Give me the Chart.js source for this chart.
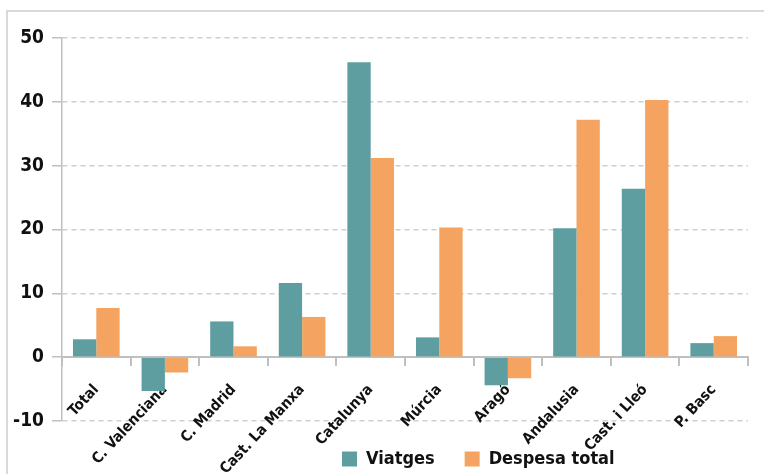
<!DOCTYPE html>
<html>
<head>
<meta charset="utf-8">
<script src="https://cdn.jsdelivr.net/npm/chart.js@4"></script>
<style>
  html, body { margin: 0; padding: 0; background: #fff; }
  #wrap { position: relative; width: 764px; height: 474px; overflow: hidden; }
  #frame { position: absolute; left: 6px; top: 10px; width: 800px; height: 500px;
           border-top: 2px solid #d9d9d9; border-left: 2px solid #d9d9d9; }
  canvas { position: absolute; left: 0; top: 0; }
</style>
</head>
<body>
<div id="wrap">
  <div id="frame"></div>
  <canvas id="chart" width="764" height="474"></canvas>
</div>
<script>
// chart data
const regions = ['Total', 'C. Valenciana', 'C. Madrid', 'Cast. La Manxa', 'Catalunya',
                 'Múrcia', 'Aragó', 'Andalusia', 'Cast. i Lleó', 'P. Basc'];
const viatges = [2.8, -5.3, 5.6, 11.6, 46.2, 3.1, -4.4, 20.2, 26.4, 2.2];
const despesa = [7.7, -2.4, 1.7, 6.3, 31.2, 20.3, -3.3, 37.2, 40.3, 3.3];
const yMin = -10;
const yMax = 50;
const yStep = 10;

const fontFamily = "'Liberation Sans Narrow', 'DejaVu Sans Condensed', 'Arial Narrow', sans-serif";

// legend sits off-centre, below the plot, in the original
const legendShift = {
  id: 'legendShift',
  afterLayout(chart) {
    const lg = chart.legend;
    if (!lg) return;
    lg.left += 312;
    lg.right += 312;
    lg.top -= 1;
    lg.bottom -= 1;
  }
};

new Chart(document.getElementById('chart'), {
  type: 'bar',
  data: {
    labels: regions,
    datasets: [
      { label: 'Viatges', data: viatges, backgroundColor: '#5f9ea0' },
      { label: 'Despesa total', data: despesa, backgroundColor: '#f4a460' }
    ]
  },
  options: {
    responsive: false,
    animation: false,
    layout: { padding: { top: 38, right: 16, left: 0, bottom: 0 } },
    datasets: { bar: { categoryPercentage: 0.68, barPercentage: 1.0 } },
    plugins: {
      tooltip: { enabled: false },
      legend: {
        position: 'bottom',
        align: 'start',
        maxHeight: 53,
        labels: {
          boxWidth: 15, boxHeight: 15, padding: 30,
          color: '#111',
          font: { family: fontFamily, size: 18, weight: 'bold' }
        }
      }
    },
    scales: {
      x: {
        position: { y: 0 },
        grid: { offset: true, drawOnChartArea: false, tickLength: 8, color: '#c0c0c0', lineWidth: 2 },
        border: { color: '#c0c0c0', width: 2 },
        ticks: {
          minRotation: 47, maxRotation: 47, padding: 16,
          color: '#111',
          font: { family: fontFamily, size: 15, weight: 'bold' }
        }
      },
      y: {
        min: yMin, max: yMax,
        afterFit: s => { s.width = 62; },
        grid: { color: '#cfcfcf', lineWidth: 1.5, tickLength: 10, tickColor: '#c0c0c0' },
        border: { color: '#c0c0c0', width: 1.5, dash: [5, 4] },
        ticks: {
          stepSize: yStep, padding: 8,
          color: '#111',
          font: { family: fontFamily, size: 19, weight: 'bold' }
        }
      }
    }
  },
  plugins: [legendShift]
});
</script>
</body>
</html>
